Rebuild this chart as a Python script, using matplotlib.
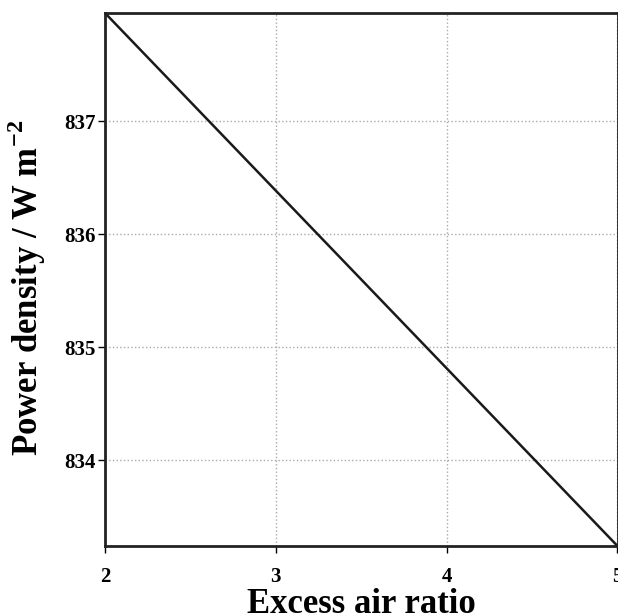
import matplotlib
matplotlib.use("Agg")
import matplotlib.pyplot as plt
import numpy as np

excess_air = [2, 5]
power_density = [837.96, 833.24]
x_ticks = [2, 3, 4, 5]
y_ticks = [834, 835, 836, 837]

plt.rcParams['font.family'] = ['Liberation Serif', 'DejaVu Serif']
plt.rcParams['mathtext.fontset'] = 'custom'
plt.rcParams['mathtext.rm'] = 'Liberation Serif:bold'
plt.rcParams['mathtext.bf'] = 'Liberation Serif:bold'

fig = plt.figure(figsize=(6.18, 6.16), dpi=100)
ax = fig.add_axes([105/618, 1-546/616, 512.5/618, 533/616])
ax.plot(excess_air, power_density, color='#1a1a1a', lw=1.8)
ax.set_xlim(2, 5)
ax.set_ylim(833.24, 837.96)
ax.set_xticks(x_ticks)
ax.set_yticks(y_ticks)
ax.set_xticklabels([str(t) for t in x_ticks], fontsize=15, fontweight='bold')
ax.set_yticklabels([str(t) for t in y_ticks], fontsize=15, fontweight='bold')
ax.grid(True, linestyle=':', color='#aaaaaa', lw=1)
ax.tick_params(direction='out', length=5, width=1)
ax.tick_params(axis='x', pad=10)
ax.tick_params(axis='y', pad=2)
for s in ax.spines.values():
    s.set_linewidth(2)
    s.set_color('#222222')
ax.set_xlabel('Excess air ratio', fontsize=25, fontweight='bold', labelpad=1)
ax.set_ylabel(r'Power density / W m$^{\mathbf{-2}}$', fontsize=25, fontweight='bold')
ax.yaxis.set_label_coords(-0.112, 0.484)
fig.savefig('out.png', dpi=100)
